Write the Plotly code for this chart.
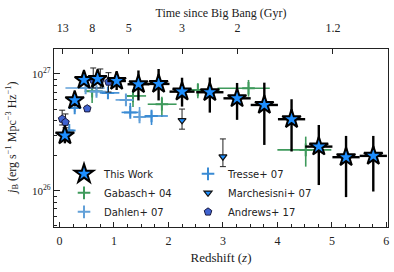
import numpy as np
import plotly.graph_objects as go

# ---------------- data (jB in units of 1e26 erg/s/Mpc^3/Hz) ----------------
tw_z    = [0.10, 0.28, 0.45, 0.70, 1.05, 1.45, 1.82, 2.25, 2.76, 3.26, 3.76, 4.26, 4.76, 5.26, 5.76]
tw_zerr = [0.05, 0.08, 0.10, 0.12, 0.17, 0.20, 0.20, 0.23, 0.25, 0.25, 0.25, 0.25, 0.25, 0.25, 0.25]
tw_j    = [2.98, 5.96, 8.89, 9.06, 8.71, 8.17, 8.22, 7.06, 6.98, 6.19, 5.43, 4.10, 2.39, 1.94, 1.99]
tw_hi   = [3.49, 6.49, 9.62, 10.0, 10.47, 10.72, 11.04, 9.29, 9.33, 8.38, 8.43, 6.08, 3.66, 2.95, 2.95]
tw_lo   = [2.55, 5.43, 8.22, 8.22, 7.29, 5.94, 5.94, 5.26, 4.67, 4.05, 2.47, 2.17, 1.12, 0.883, 0.986]

gab_z   = [0.60, 1.35, 1.88, 2.54, 3.47, 4.52]
gab_zlo = [0.46, 1.23, 1.62, 2.33, 2.90, 4.00]
gab_zhi = [0.79, 1.59, 2.15, 2.94, 3.86, 4.99]
gab_j   = [7.13, 6.49, 5.51, 7.29, 7.55, 2.24]
gab_hi  = [8.11, 7.29, 6.40, 8.32, 8.89, 2.91]
gab_lo  = [5.65, 5.22, 4.29, 6.19, 6.40, 1.61]

dah_z   = [0.48, 0.68, 1.22, 1.47]
dah_zlo = [0.11, 0.55, 1.03, 1.38]
dah_zhi = [0.83, 0.85, 1.36, 1.71]
dah_j   = [7.59, 7.08, 6.00, 4.29]
dah_hi  = [7.89, 7.59, 6.55, 5.22]
dah_lo  = [7.29, 6.49, 5.43, 3.96]

tre_z   = [0.18, 0.28, 0.89, 1.30, 1.69]
tre_zlo = [0.11, 0.19, 0.74, 1.14, 1.56]
tre_zhi = [0.26, 0.40, 1.10, 1.45, 1.99]
tre_j   = [3.29, 5.12, 6.89, 4.69, 4.37]
tre_hi  = [3.53, 5.77, 7.59, 5.65, 4.83]
tre_lo  = [3.07, 4.73, 6.24, 4.29, 3.66]

mar_z   = [2.25, 3.00]
mar_j   = [4.01, 1.96]
mar_hi  = [5.01, 2.78]
mar_lo  = [3.37, 1.61]

and_z   = [0.05, 0.11, 0.51, 0.62, 0.75, 0.90]
and_j   = [4.12, 3.87, 5.05, 8.89, 8.89, 8.55]
and_hi  = [4.90, 4.55, 5.30, 11.26, 11.04, 10.26]
and_lo  = [3.66, 3.46, 4.80, 7.59, 7.59, 7.01]

age_labels = ["13", "8", "5", "3", "2", "1.2"]
age_z      = [0.06, 0.60, 1.27, 2.25, 3.27, 5.02]

UNIT = 1e26

def arr(a):
    return np.array(a, dtype=float)

def yerrs(j, hi, lo):
    j, hi, lo = arr(j) * UNIT, arr(hi) * UNIT, arr(lo) * UNIT
    return j, hi - j, j - lo

def xerrs(z, zlo, zhi):
    z = arr(z)
    return arr(zhi) - z, z - arr(zlo)

SERIF = "Liberation Serif"
SANS = "DejaVu Sans"
GREEN = "#3f9a5c"
DAHLEN = "#62a0d8"
TRESSE = "#3a8bd4"
STAR = "#1e8fff"

fig = go.Figure()

# Gabasch
y, yp, ym = yerrs(gab_j, gab_hi, gab_lo)
xp, xm = xerrs(gab_z, gab_zlo, gab_zhi)
fig.add_trace(go.Scatter(
    x=gab_z, y=y, mode="markers", name="Gabasch+ 04", legendrank=3,
    marker=dict(symbol="cross-thin", size=9, color=GREEN, line=dict(color=GREEN, width=2)),
    error_x=dict(type="data", array=xp, arrayminus=xm, color=GREEN, thickness=1.6, width=0),
    error_y=dict(type="data", array=yp, arrayminus=ym, color=GREEN, thickness=1.6, width=0)))

# Dahlen
y, yp, ym = yerrs(dah_j, dah_hi, dah_lo)
xp, xm = xerrs(dah_z, dah_zlo, dah_zhi)
fig.add_trace(go.Scatter(
    x=dah_z, y=y, mode="markers", name="Dahlen+ 07", legendrank=5,
    marker=dict(symbol="cross-thin", size=9, color=DAHLEN, line=dict(color=DAHLEN, width=2)),
    error_x=dict(type="data", array=xp, arrayminus=xm, color=DAHLEN, thickness=1.6, width=0),
    error_y=dict(type="data", array=yp, arrayminus=ym, color=DAHLEN, thickness=1.6, width=0)))

# Tresse
y, yp, ym = yerrs(tre_j, tre_hi, tre_lo)
xp, xm = xerrs(tre_z, tre_zlo, tre_zhi)
fig.add_trace(go.Scatter(
    x=tre_z, y=y, mode="markers", name="Tresse+ 07", legendrank=2,
    marker=dict(symbol="cross-thin", size=9, color=TRESSE, line=dict(color=TRESSE, width=2)),
    error_x=dict(type="data", array=xp, arrayminus=xm, color=TRESSE, thickness=1.6, width=0),
    error_y=dict(type="data", array=yp, arrayminus=ym, color=TRESSE, thickness=1.6, width=0)))

# Marchesini
y, yp, ym = yerrs(mar_j, mar_hi, mar_lo)
fig.add_trace(go.Scatter(
    x=mar_z, y=y, mode="markers", name="Marchesisni+ 07", legendrank=4,
    marker=dict(symbol="triangle-down", size=7, color=STAR, line=dict(color="#111", width=1.2)),
    error_y=dict(type="data", array=yp, arrayminus=ym, color="#222", thickness=1, width=3)))

# Andrews
y, yp, ym = yerrs(and_j, and_hi, and_lo)
fig.add_trace(go.Scatter(
    x=and_z, y=y, mode="markers", name="Andrews+ 17", legendrank=6,
    marker=dict(symbol="pentagon", size=8, color="#3f63d0", line=dict(color="#1a1a40", width=1)),
    error_y=dict(type="data", array=yp, arrayminus=ym, color="#222", thickness=1, width=3)))

# This work
y, yp, ym = yerrs(tw_j, tw_hi, tw_lo)
fig.add_trace(go.Scatter(
    x=tw_z, y=y, mode="markers", name="This Work", legendrank=1,
    marker=dict(symbol="star", size=14, color=STAR, line=dict(color="black", width=2)),
    error_x=dict(type="data", array=arr(tw_zerr), color="black", thickness=2.4, width=0),
    error_y=dict(type="data", array=yp, arrayminus=ym, color="black", thickness=2.4, width=0)))

# top axis helper trace
fig.add_trace(go.Scatter(x=[age_z[0]], y=[1e27], xaxis="x2", mode="markers",
                         marker=dict(opacity=0), showlegend=False, hoverinfo="skip"))

XR = [-0.1, 6.03]
YR = [25.69, 27.214]
minor_y = [float(m) * 10.0 ** e for e in (25, 26, 27) for m in range(2, 10)]

fig.update_layout(
    width=394, height=272,
    margin=dict(l=54, r=6, t=49, b=45),
    paper_bgcolor="white", plot_bgcolor="white",
    font=dict(family=SERIF, size=12, color="#222"),
    showlegend=True,
    legend=dict(orientation="h", x=0.03, y=0.38, xanchor="left", yanchor="top",
                entrywidth=79, font=dict(family=SANS, size=10, color="#222"),
                bgcolor="rgba(0,0,0,0)", itemwidth=30, tracegroupgap=0),
    xaxis=dict(range=XR, showline=True, linecolor="#222", linewidth=1.2, mirror=True,
               ticks="inside", ticklen=5, tickcolor="#222", tickvals=[0, 1, 2, 3, 4, 5, 6],
               showgrid=False, zeroline=False, tickfont=dict(size=12), automargin=False,
               ticklabelstandoff=2,
               minor=dict(ticks="inside", ticklen=3, tickcolor="#222", dtick=0.25, tick0=0),
               title=dict(text="Redshift (<i>z</i>)", font=dict(size=13), standoff=6)),
    xaxis2=dict(range=XR, overlaying="x", side="top", anchor="y", showline=False,
                ticks="inside", ticklen=5, tickcolor="#222", tickvals=age_z, ticktext=age_labels,
                showgrid=False, zeroline=False, tickfont=dict(size=12), automargin=False,
                ticklabelstandoff=14,
                title=dict(text="Time since Big Bang (Gyr)", font=dict(size=12), standoff=0)),
    yaxis=dict(type="log", range=YR, showline=True, linecolor="#222", linewidth=1.2, mirror=True,
               ticks="inside", ticklen=6, tickcolor="#222", automargin=False,
               tickvals=[1e26, 1e27], ticktext=["10<sup>26</sup>", "10<sup>27</sup>"],
               showgrid=False, zeroline=False, tickfont=dict(size=11),
               minor=dict(ticks="inside", ticklen=3, tickcolor="#222", tickmode="array", tickvals=minor_y)),
    annotations=[dict(
        text="<i>j</i><sub>B</sub> (erg s<sup>−1</sup> Mpc<sup>−3</sup> Hz<sup>−1</sup>)",
        xref="paper", yref="paper", x=-0.126, y=0.5, xanchor="center", yanchor="middle",
        textangle=-90, showarrow=False, font=dict(family=SERIF, size=12, color="#222"))],
)

fig.write_html("out.html", config={"displayModeBar": False},
               post_script="document.body.style.margin='0';")
